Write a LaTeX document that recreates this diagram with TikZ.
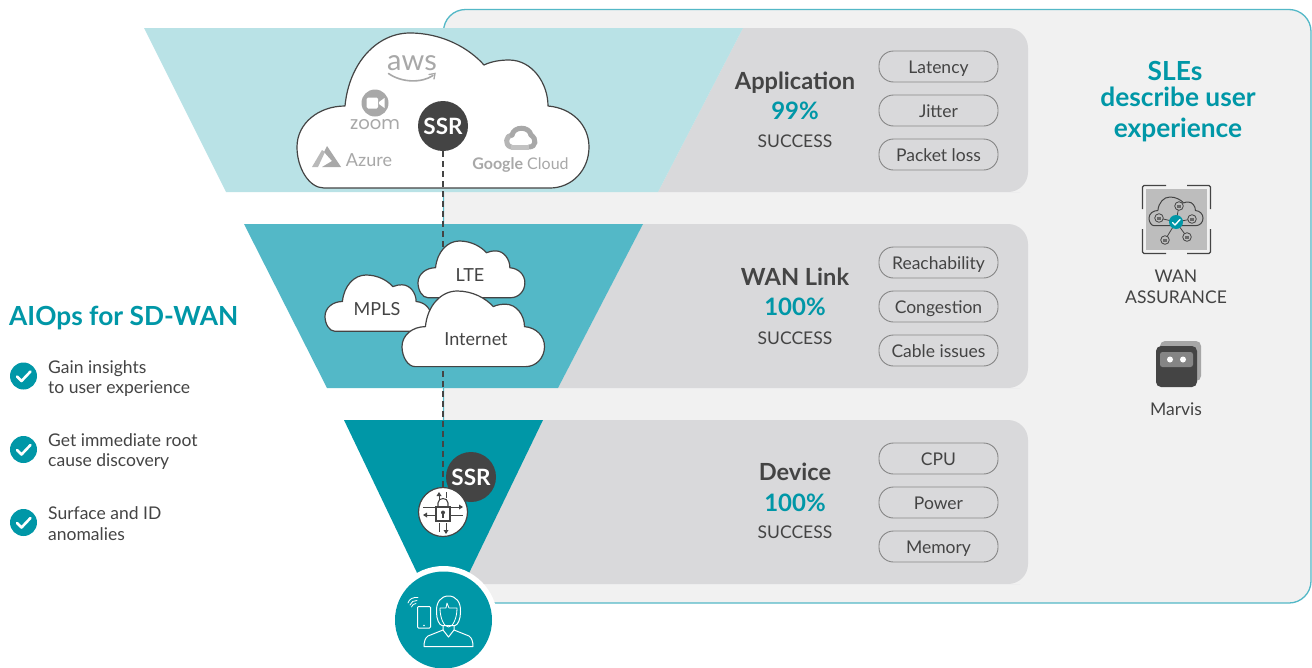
\documentclass[tikz,border=0pt]{standalone}
\usepackage{fontspec}
\setmainfont{Lato}
\newfontfamily\logofont{Poppins}
\definecolor{teal1}{HTML}{0097A7}
\definecolor{teal2}{HTML}{53B8C7}
\definecolor{teal3}{HTML}{B9E2E6}
\definecolor{panelbg}{HTML}{F1F1F1}
\definecolor{bandgray}{HTML}{D9D9DB}
\definecolor{ink}{HTML}{444444}
\definecolor{logogray}{HTML}{A8A8A8}
\newcommand{\fsz}[1]{\fontsize{#1}{#1}\selectfont}
\newcommand{\cloudpath}{(27,155) .. controls (12,155) and (0,135) .. (0,114) .. controls (0,90) and (22,73) .. (48,73) .. controls (52,30) and (80,0) .. (113,0) .. controls (145,0) and (172,15) .. (187,32) .. controls (195,28) and (205,27) .. (212,27) .. controls (235,27) and (251,50) .. (251,73) .. controls (275,75) and (292,92) .. (292,114) .. controls (292,137) and (275,155) .. (253,155) -- cycle}
\tikzset{
  pillbox/.style={draw=black!47,line width=.9pt,fill=bandgray,rounded corners=14.5pt,minimum width=119pt,minimum height=31pt,inner sep=0pt,text=ink,font=\fsz{17.5},text height=15pt,text depth=1.6pt},
  bandhead/.style={text=ink,font=\fsz{23.6}\bfseries,inner sep=0pt},
  bandpct/.style={text=teal1,font=\fsz{24}\bfseries,inner sep=0pt},
  bandsub/.style={text=ink,font=\fsz{17.5},inner sep=0pt},
  ssrnode/.style={circle,fill=ink,text=white,minimum size=50pt,inner sep=0pt,font=\fsz{22.5}\bfseries},
  cloudline/.style={draw=ink,line width=1.2pt,fill=white,line join=round},
  cloudtext/.style={text=ink,font=\fsz{18},inner sep=0pt},
  checkdot/.style={circle,fill=teal1,minimum size=27pt,inner sep=0pt},
  bullettext/.style={text=ink,font=\fsz{17.5},align=left,anchor=west,inner sep=0pt},
  headteal/.style={text=teal1,font=\fsz{26.3}\bfseries,inner sep=0pt},
  logotext/.style={text=logogray,inner sep=0pt},
  iconline/.style={draw=ink,line width=.8pt},
  whiteline/.style={draw=white,line width=1pt,line join=round,line cap=round},
}
\begin{document}
\begin{tikzpicture}[x=1pt,y=-1pt]
\useasboundingbox (0,0) rectangle (1312,667);
\fill[white] (0,0) rectangle (1312,667);
% panel
\draw[draw=teal2,line width=1.3pt,fill=panelbg,rounded corners=22pt] (443.5,620) -- (443.5,9.5) -- (1311,9.5) -- (1311,603) -- (443.5,603) -- cycle;
% band 1
\fill[bandgray] (658,192) -- (743,28) -- (1000,28) [rounded corners=20pt] -- (1028,28) -- (1028,192) -- (1000,192) [sharp corners] -- cycle;
\fill[teal3] (144,28) -- (743,28) -- (658,192) -- (226,192) -- cycle;
% band 2
\fill[bandgray] (558,388) -- (643,224) -- (1000,224) [rounded corners=20pt] -- (1028,224) -- (1028,388) -- (1000,388) [sharp corners] -- cycle;
\fill[teal2] (244,224) -- (643,224) -- (558,388) -- (327,388) -- cycle;
% band 3
\fill[bandgray] (460,584) -- (543,420) -- (1000,420) [rounded corners=20pt] -- (1028,420) -- (1028,584) -- (1000,584) [sharp corners] -- cycle;
\fill[teal1] (344,420) -- (543,420) -- (456,600) -- (430,600) -- cycle;
% big cloud
\begin{scope}[shift={(297,33)}]
\draw[cloudline] \cloudpath;
\end{scope}
% logos in big cloud
\node[logotext,font=\fsz{29}] (awslogo) at (412,63) {aws};
\draw[logogray,line width=1.6pt,line cap=round] (388.5,73.5) .. controls (402,83) and (422,83) .. (433,75.5);
\draw[logogray,line width=1.3pt,line cap=round] (429,74.5) -- (435,73.5) -- (434,79);
\fill[logogray] (375,103) circle[radius=13.5];
\fill[white,rounded corners=1.5pt] (366.5,97.5) rectangle (378,108.5);
\fill[white] (379,102) -- (384.5,98) -- (384.5,108) -- (379,104) -- cycle;
\node[logotext,font=\logofont\fsz{18}] (zoomlogo) at (375,125) {zoom};
\fill[logogray] (327,146) -- (341,167) -- (322,167) -- (332,161) -- (324,152) -- cycle;
\fill[logogray!80] (322,150) -- (312,167) -- (318,167) -- (325,152) -- cycle;
\node[logotext,font=\fsz{18}] (azurelogo) at (369,160) {Azure};
\begin{scope}[shift={(505,125)}]
\draw[logogray!85,line width=5pt,line cap=round,line join=round] (6,22) .. controls (-1,20) and (1,10) .. (7,10);
\draw[logogray,line width=5pt,line cap=round] (7,10) .. controls (9,1) and (24,1) .. (26,10);
\draw[logogray,line width=5pt,line cap=round] (26,10) .. controls (32,14) and (31,22) .. (24,22);
\draw[logogray!70,line width=5pt] (6,22) -- (24,22);
\end{scope}
\node[logotext,font=\fsz{16}] (googlelogo) at (520.5,165) {{\bfseries Google} Cloud};
% ssr and router
\node[ssrnode] (ssrtop) at (443,126) {SSR};
\coordinate (routertop) at (443,490);
\draw[draw=ink,line width=1.2pt,dash pattern=on 5.5pt off 4.5pt] (ssrtop.south) -- (routertop);
% WAN clouds
\begin{scope}[shift={(325,275)},scale=.363]
\draw[cloudline,line width=1.2pt] \cloudpath;
\end{scope}
\begin{scope}[shift={(418,241)},scale=.366]
\draw[cloudline,line width=1.2pt] \cloudpath;
\end{scope}
\begin{scope}[shift={(402,291)},scale=.488]
\draw[cloudline,line width=1.2pt] \cloudpath;
\end{scope}
\node[cloudtext] (mpls) at (377,309) {MPLS};
\node[cloudtext] (lte) at (470,275) {LTE};
\node[cloudtext] (internet) at (476,339) {Internet};
% device icons
\node[ssrnode] (ssrlow) at (471,477) {SSR};
\node[circle,draw=ink,line width=1.2pt,fill=white,minimum size=49pt,inner sep=0pt] (router) at (443,512) {};
\draw[ink,line width=.9pt] (423,507) -- (459,507);
\fill[ink] (463,507) -- (459,504.5) -- (459,509.5) -- cycle;
\draw[ink,line width=.9pt] (427,515) -- (463,515);
\fill[ink] (423,515) -- (427,512.5) -- (427,517.5) -- cycle;
\draw[ink,line width=.9pt] (439,496) -- (439,500) (446,492) -- (446,498) (439,523) -- (439,532) (446,523) -- (446,530);
\fill[ink] (439,492) -- (436.5,496) -- (441.5,496) -- cycle;
\fill[ink] (446,534) -- (443.5,530) -- (448.5,530) -- cycle;
\draw[ink,line width=1.1pt,fill=white] (436,507) rectangle (450,521);
\draw[ink,line width=1.1pt] (438,507) -- (438,503) .. controls (438,497) and (448,497) .. (448,503) -- (448,507);
\fill[ink] (443,512.5) circle[radius=2];
\draw[ink,line width=1.1pt] (443,512.5) -- (443,518);
% user circle
\fill[white] (443.5,620) circle[radius=54];
\node[circle,fill=teal1,minimum size=97pt,inner sep=0pt] (user) at (443.5,620) {};
\draw[whiteline,rounded corners=1pt] (417.5,606.5) rectangle (430.5,628);
\fill[white] (424,625.5) circle[radius=.8];
\draw[whiteline,line width=.8pt] (410,605) .. controls (411,602) and (414,600) .. (417,600.5);
\draw[whiteline,line width=.8pt] (408,603) .. controls (409,599) and (413,597) .. (418,597.5);
\draw[whiteline,line width=.8pt] (411.5,607) .. controls (412,605) and (414,603.5) .. (416,603.5);
\draw[whiteline] (436.5,612) .. controls (436,602) and (441,596) .. (448.5,596) .. controls (456,596) and (461,602) .. (460.5,612) .. controls (460.5,619) and (458,625) .. (455,625.5) -- (442,625.5) .. controls (439,625) and (436.5,619) .. (436.5,612) -- cycle;
\draw[whiteline,line width=.8pt] (440,608) -- (446,608) -- (447,603) (447,603) -- (449,608) -- (457,608) (440,608) .. controls (440,618) and (444,627) .. (448.5,627) .. controls (453,627) and (457,618) .. (457,608);
\draw[whiteline] (443,625.5) -- (443,630) -- (428,636) .. controls (425,638) and (424,642) .. (424,646.5) -- (473,646.5) .. controls (473,642) and (472,638) .. (469,636) -- (454,630) -- (454,625.5);
\draw[whiteline] (443,630) -- (448.5,637) -- (454,630);
% band text
\node[bandhead] (apphead) at (795,83) {Application};
\node[bandpct] (apppct) at (795,111) {99\%};
\node[bandsub] (appsub) at (795,141) {SUCCESS};
\node[bandhead] (wanhead) at (795,277) {WAN Link};
\node[bandpct] (wanpct) at (795,307) {100\%};
\node[bandsub] (wansub) at (795,338) {SUCCESS};
\node[bandhead] (devhead) at (795,472) {Device};
\node[bandpct] (devpct) at (795,503) {100\%};
\node[bandsub] (devsub) at (795,532) {SUCCESS};
% pills
\node[pillbox] (p1) at (938.5,66.5) {Latency};
\node[pillbox] (p2) at (938.5,110.5) {Jitter};
\node[pillbox] (p3) at (938.5,154.5) {Packet loss};
\node[pillbox] (p4) at (938.5,262.5) {Reachability};
\node[pillbox] (p5) at (938.5,306.5) {Congestion};
\node[pillbox] (p6) at (938.5,350.5) {Cable issues};
\node[pillbox] (p7) at (938.5,458.5) {CPU};
\node[pillbox] (p8) at (938.5,502.5) {Power};
\node[pillbox] (p9) at (938.5,546.5) {Memory};
% left column
\node[headteal,anchor=west] (aiops) at (9,318) {AIOps for SD-WAN};
\foreach \n/\yy in {c1/376,c2/449.5,c3/522.5}{
  \node[checkdot] (\n) at (23.5,\yy) {};
  \draw[white,line width=2.6pt,line cap=round,line join=round] (17,\yy+.5) -- (21.5,\yy+5) -- (30.5,\yy-4.5);
}
\node[bullettext] (b1) at (48,378.5) {Gain insights\\[2.5pt]to user experience};
\node[bullettext] (b2) at (48,451.5) {Get immediate root\\[2.5pt]cause discovery};
\node[bullettext] (b3) at (48,523.5) {Surface and ID\\[3pt]anomalies};
% right column
\node[headteal] (sles1) at (1175,71) {SLEs};
\node[headteal] (sles2) at (1178,97) {describe user};
\node[headteal] (sles3) at (1178,130) {experience};
% WAN assurance icon
\fill[black!26] (1146,189) rectangle (1207,250);
\draw[ink,line width=1.2pt,rounded corners=1.5pt] (1142.5,209) -- (1142.5,185.5) -- (1166,185.5) (1187,185.5) -- (1210.5,185.5) -- (1210.5,209) (1210.5,229) -- (1210.5,253.5) -- (1187,253.5) (1166,253.5) -- (1142.5,253.5) -- (1142.5,229);
\begin{scope}[shift={(1149,197)},scale=.185]
\draw[draw=ink,line width=1pt,line join=round] \cloudpath;
\end{scope}
\foreach \x/\y in {1179/206,1159/218,1192/219,1187/237,1165/240}{
  \draw[iconline] (1176,222) -- (\x,\y);
}
\foreach \x/\y in {1179/206,1159/218,1192/219,1187/237,1165/240}{
  \draw[iconline,fill=black!26] (\x,\y) circle[radius=4.3];
  \fill[ink!80] (\x-1.8,\y-1.5) rectangle (\x+1.8,\y+1.8);
}
\fill[teal1] (1176,222) circle[radius=7];
\draw[white,line width=1.4pt,line cap=round,line join=round] (1172.5,222.5) -- (1175,225) -- (1180,219.5);
\node[bandsub] (wa1) at (1176,276) {WAN};
\node[bandsub] (wa2) at (1176,297) {ASSURANCE};
% Marvis icon
\fill[black!35,rounded corners=5pt] (1160,341) rectangle (1201,381);
\fill[ink,rounded corners=5pt] (1156,346) rectangle (1197,387);
\fill[black!48,rounded corners=2.5pt] (1160,352) rectangle (1193,367);
\fill[white] (1170,359.5) circle[radius=3];
\fill[white] (1183,359.5) circle[radius=3];
\node[bandsub] (marvis) at (1176,409) {Marvis};
\end{tikzpicture}
\end{document}
